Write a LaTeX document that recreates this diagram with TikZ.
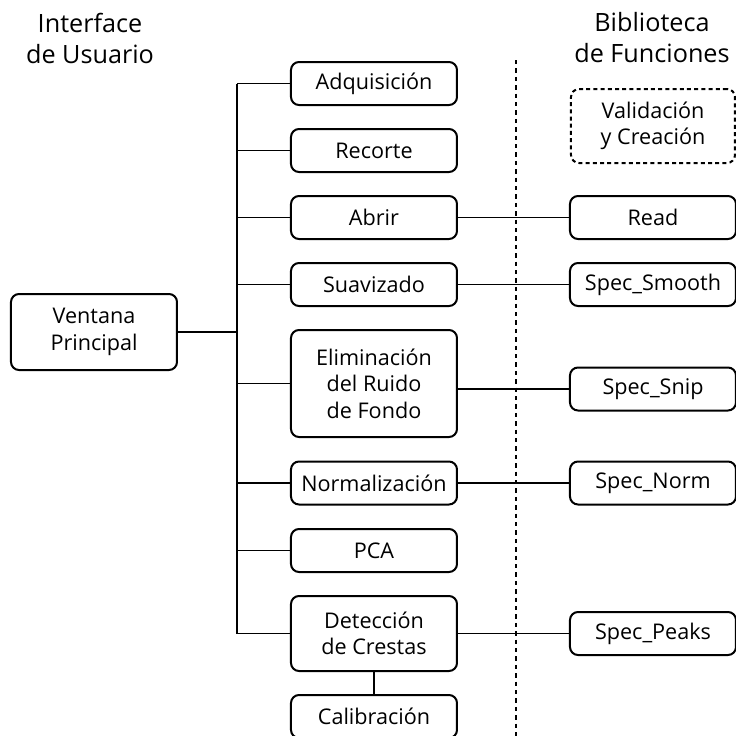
\documentclass[tikz,border=0pt]{standalone}
\usepackage{fontspec}
\setmainfont{Open Sans}
\begin{document}
\begin{tikzpicture}[x=0.5pt,y=-0.5pt,
    box/.style={draw,line width=1pt,rounded corners=4pt,minimum width=83pt,minimum height=21.5pt,
      align=center,inner sep=0pt,font=\fontsize{10.8}{13.3}\selectfont},
    head/.style={align=center,font=\fontsize{12.6}{15.5}\selectfont},
    link/.style={line width=0.65pt}]
    \useasboundingbox (0,0) rectangle (736,736);

    % headers
    \node[head] (UI) at (90,38) {Interface\\de Usuario};
    \node[head] (Lib) at (652,38) {Biblioteca\\de Funciones};

    % main window
    \node[box,minimum height=38pt] (Ventana) at (94,332) {Ventana\\Principal};

    % user interface column
    \node[box] (Adq) at (374,83.5) {Adquisición};
    \node[box] (Rec) at (374,150.5) {Recorte};
    \node[box] (Abrir) at (374,217.5) {Abrir};
    \node[box] (Suav) at (374,284.5) {Suavizado};
    \node[box,minimum height=53.5pt] (Elim) at (374,383.5) {Eliminación\\del Ruido\\de Fondo};
    \node[box] (Norm) at (374,483) {Normalización};
    \node[box] (PCA) at (374,550.5) {PCA};
    \node[box,minimum height=37.5pt] (Det) at (374,633.5) {Detección\\de Crestas};
    \node[box] (Cal) at (374,716.5) {Calibración};

    % function library column
    \node[box,dash pattern=on 2pt off 1.6pt,minimum width=82pt,minimum height=37pt] (Valid) at (653,126) {Validación\\y Creación};
    \node[box] (Read) at (653,217.5) {Read};
    \node[box] (Smooth) at (653,284.5) {Spec\_Smooth};
    \node[box] (Snip) at (653,389) {Spec\_Snip};
    \node[box] (SNorm) at (653,483) {Spec\_Norm};
    \node[box] (Peaks) at (653,633.5) {Spec\_Peaks};

    % trunk
    \coordinate (Ttop) at (237,83.5);
    \coordinate (Tbot) at (237,633.5);
    \draw[link] (Ttop) -- (Tbot);
    \draw[link] (Ventana.east) -- (Ventana.east -| Ttop);
    \foreach \n in {Adq,Rec,Abrir,Suav,Elim,Norm,PCA,Det}
      \draw[link] (\n.west) -- (\n.west -| Ttop);
    \draw[link] (Det.south) -- (Cal.north);

    % calls into the library
    \draw[link] (Abrir.east) -- (Read.west);
    \draw[link] (Suav.east) -- (Smooth.west);
    \draw[link] (Elim.east |- Snip.west) -- (Snip.west);
    \draw[link] (Norm.east) -- (SNorm.west);
    \draw[link] (Det.east) -- (Peaks.west);

    % divider
    \coordinate (Dtop) at (516,60);
    \coordinate (Dbot) at (516,736);
    \draw[line width=1pt,dash pattern=on 2.2pt off 2pt] (Dtop) -- (Dbot);
\end{tikzpicture}
\end{document}
